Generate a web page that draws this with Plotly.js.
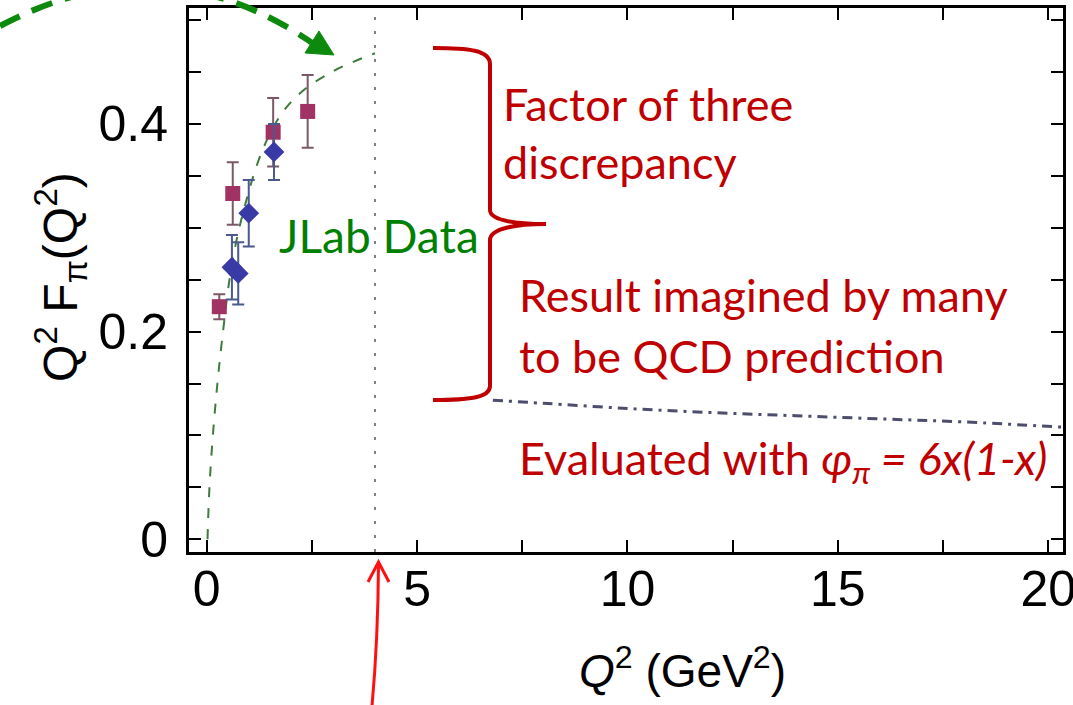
<!DOCTYPE html>
<html>
<head>
<meta charset="utf-8">
<script src="https://cdn.plot.ly/plotly-3.0.1.min.js"></script>
<style>html,body{margin:0;padding:0;background:#fff;}#chart{width:1073px;height:705px;}</style>
</head>
<body>
<div id="chart"></div>
<script>
// ---- data ----
const squareQ2   = [0.30, 0.62, 1.58, 2.40];
const squareVal  = [0.224, 0.333, 0.392, 0.412];
const squareErr  = [0.012, 0.030, 0.033, 0.035];

const blueQ2     = [0.60, 0.75, 1.00, 1.60];
const blueVal    = [0.262, 0.256, 0.314, 0.373];
const blueErr    = [0.031, 0.030, 0.032, 0.027];

const vmdQ2      = [0.02, 0.06, 0.12, 0.22, 0.36, 0.60, 0.90, 1.31, 1.75, 2.26, 2.97, 3.50, 4.00];
const vmdVal     = [0.000, 0.045, 0.085, 0.135, 0.190, 0.265, 0.320, 0.373, 0.408, 0.431, 0.450, 0.460, 0.468];

const qcdQ2      = [6.8, 8, 10, 12, 14, 16, 18, 20.35];
const qcdVal     = [0.134, 0.131, 0.126, 0.122, 0.119, 0.116, 0.113, 0.108];

const refQ2      = 4.0;

const xTickVals  = [0, 5, 10, 15, 20];
const xTickText  = ['0', '5', '10', '15', '20'];
const yTickVals  = [0, 0.2, 0.4];
const yTickText  = ['0', '0.2', '0.4'];

// ---- pixel helpers for decorations ----
const L = 189, R = 1063, T = 8, B = 552;
const px = v => (v - L) / (R - L);
const py = v => (B - v) / (B - T);
function P(cmds){
  let s = '';
  cmds.forEach(c => {
    s += c[0];
    const nums = c.slice(1);
    for (let i = 0; i < nums.length; i += 2) {
      s += (i ? ' ' : '') + px(nums[i]).toFixed(5) + ',' + py(nums[i+1]).toFixed(5);
    }
    s += ' ';
  });
  return s.trim();
}

const red = '#c00000';
const green = '#008000';

const traces = [
  {
    x: vmdQ2, y: vmdVal, type: 'scatter', mode: 'lines',
    line: {color: '#3f7a3f', width: 2, dash: '10px,11px', shape: 'spline'},
    hoverinfo: 'skip'
  },
  {
    x: qcdQ2, y: qcdVal, type: 'scatter', mode: 'lines',
    line: {color: '#4d4d6e', width: 3, dash: '10px,6px,3px,6px', shape: 'spline'},
    hoverinfo: 'skip'
  },
  {
    x: squareQ2, y: squareVal, type: 'scatter', mode: 'markers',
    marker: {symbol: 'square', size: 15, color: '#a03264'},
    error_y: {type: 'data', array: squareErr, visible: true, color: '#7d5868', thickness: 2, width: 6}
  },
  {
    x: blueQ2, y: blueVal, type: 'scatter', mode: 'markers',
    marker: {symbol: 'diamond', size: 16, color: '#3a3aa6'},
    error_y: {type: 'data', array: blueErr, visible: true, color: '#4a5a8c', thickness: 2, width: 6}
  }
];

const tickFont = {family: 'Liberation Sans, Arial, sans-serif', size: 50, color: '#000'};
const txtFont = (sz, col) => ({family: 'Lato, Carlito, sans-serif', size: sz, color: col});
const FS = 45;

const annotations = [
  {text: 'JLab Data', x: px(277), y: py(236), xref: 'paper', yref: 'paper', xanchor: 'left', yanchor: 'middle', showarrow: false, font: txtFont(FS + 1, green)},
  {text: 'Factor of three', x: px(501), y: py(104), xref: 'paper', yref: 'paper', xanchor: 'left', yanchor: 'middle', showarrow: false, font: txtFont(FS, red)},
  {text: 'discrepancy', x: px(501), y: py(162), xref: 'paper', yref: 'paper', xanchor: 'left', yanchor: 'middle', showarrow: false, font: txtFont(FS, red)},
  {text: 'Result imagined by many', x: px(517), y: py(295), xref: 'paper', yref: 'paper', xanchor: 'left', yanchor: 'middle', showarrow: false, font: txtFont(FS, red)},
  {text: 'to be QCD prediction', x: px(517), y: py(356), xref: 'paper', yref: 'paper', xanchor: 'left', yanchor: 'middle', showarrow: false, font: txtFont(FS, red)},
  {text: 'Evaluated with <i>φ<sub>π</sub> = 6x(1-x)</i>', x: px(517), y: py(461), xref: 'paper', yref: 'paper', xanchor: 'left', yanchor: 'middle', showarrow: false, font: txtFont(FS, red)},
  {text: '<i>Q</i><sup>2</sup> (GeV<sup>2</sup>)', x: px(682), y: py(668), xref: 'paper', yref: 'paper', xanchor: 'center', yanchor: 'middle', showarrow: false, font: {family: 'Liberation Sans, Arial, sans-serif', size: 46, color: '#000'}},
  {text: 'Q<sup>2</sup> F<sub>π</sub>(Q<sup>2</sup>)', x: px(60), y: py(277), xref: 'paper', yref: 'paper', xanchor: 'center', yanchor: 'middle', textangle: -90, showarrow: false, font: {family: 'Liberation Sans, Arial, sans-serif', size: 48, color: '#000'}}
];

const shapes = [
  // reference dotted line at Q^2 = 4
  {type: 'line', xref: 'x', yref: 'paper', x0: refQ2, x1: refQ2, y0: 0, y1: 1, line: {color: '#808080', width: 2, dash: '3px,11px'}, layer: 'below'},
  // red curly brace
  {type: 'path', xref: 'paper', yref: 'paper', line: {color: red, width: 4},
   path: P([['M',433,48],['C',468,48, 490,50, 490,64],['L',490,210],['C',490,221, 518,224, 546,224],['C',518,224, 490,228, 490,240],['L',490,386],['C',490,398, 468,400, 433,400]])},
  // green dashed arrow (top left)
  {type: 'path', xref: 'paper', yref: 'paper', line: {color: '#0d8a0d', width: 6, dash: '22px,13px'},
   path: P([['M',0,26],['Q',165,-62, 318,47]])},
  {type: 'path', xref: 'paper', yref: 'paper', line: {color: '#0d8a0d', width: 1}, fillcolor: '#0d8a0d',
   path: P([['M',334,55],['L',305,53],['L',319,31],['Z']])},
  // red arrow (bottom)
  {type: 'path', xref: 'paper', yref: 'paper', line: {color: '#ff1010', width: 3},
   path: P([['M',372,706],['Q',378,640, 378.5,564]])},
  {type: 'path', xref: 'paper', yref: 'paper', line: {color: '#ff1010', width: 3},
   path: P([['M',368,582],['L',378.5,562],['L',389,582]])}
];

const axisCommon = {
  tickmode: 'array',
  ticks: 'inside', ticklen: 12, tickwidth: 2, tickcolor: '#000',
  showline: true, linewidth: 3, linecolor: '#000', mirror: 'ticks',
  showgrid: false, zeroline: false, tickfont: tickFont, ticklabeloverflow: 'allow'
};

const layout = {
  width: 1073, height: 705,
  margin: {l: L, r: 1073 - R, t: T, b: 705 - B, pad: 0},
  paper_bgcolor: '#fff', plot_bgcolor: '#fff',
  showlegend: false,
  xaxis: Object.assign({}, axisCommon, {
    range: [-0.42, 20.35], tickvals: xTickVals, ticktext: xTickText, ticklabelstandoff: -9,
    minor: {dtick: 2.5, tick0: 0, ticks: 'inside', ticklen: 12, tickwidth: 2, tickcolor: '#000', showgrid: false}
  }),
  yaxis: Object.assign({}, axisCommon, {
    range: [-0.0122, 0.5116], tickvals: yTickVals, ticktext: yTickText, ticklabelstandoff: 8,
    minor: {dtick: 0.05, tick0: 0, ticks: 'inside', ticklen: 12, tickwidth: 2, tickcolor: '#000', showgrid: false}
  }),
  annotations: annotations,
  shapes: shapes
};

Plotly.newPlot('chart', traces, layout, {staticPlot: true, displayModeBar: false});
</script>
</body>
</html>
